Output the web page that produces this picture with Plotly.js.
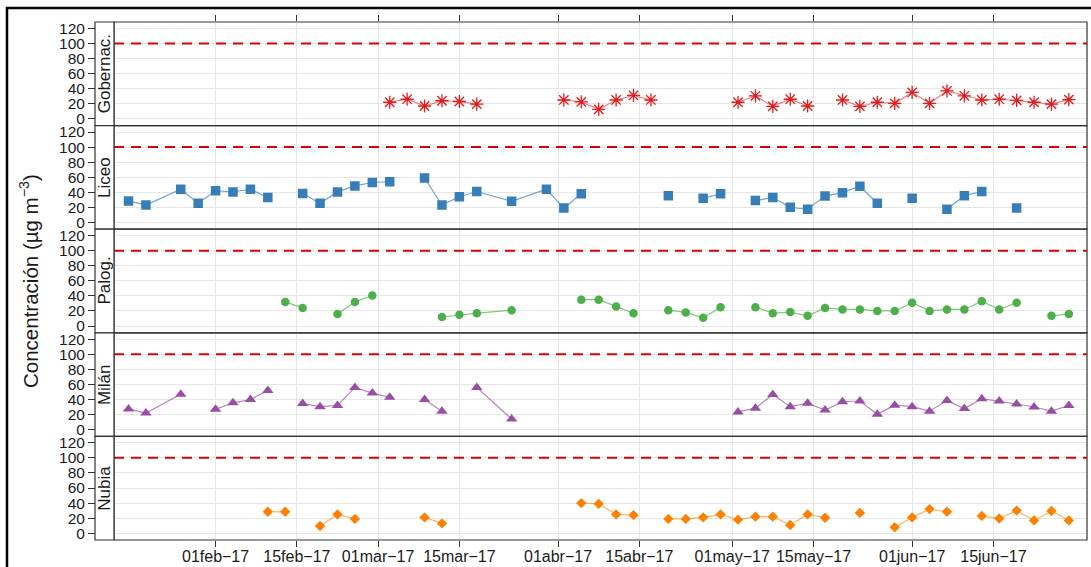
<!DOCTYPE html>
<html>
<head>
<meta charset="utf-8">
<script src="https://cdn.plot.ly/plotly-3.0.1.min.js"></script>
<style>html,body{margin:0;padding:0;background:#fff;}#chart{width:1091px;height:567px;}</style>
</head>
<body>
<div id="chart"></div>
<script>
// Sampling dates (every ~3 days)
const dates = ['2017-01-17','2017-01-20','2017-01-26','2017-01-29','2017-02-01','2017-02-04','2017-02-07','2017-02-10',
  '2017-02-13','2017-02-16','2017-02-19','2017-02-22','2017-02-25','2017-02-28','2017-03-03','2017-03-06','2017-03-09',
  '2017-03-12','2017-03-15','2017-03-18','2017-03-24','2017-03-30','2017-04-02','2017-04-05','2017-04-08','2017-04-11',
  '2017-04-14','2017-04-17','2017-04-20','2017-04-23','2017-04-26','2017-04-29','2017-05-02','2017-05-05','2017-05-08',
  '2017-05-11','2017-05-14','2017-05-17','2017-05-20','2017-05-23','2017-05-26','2017-05-29','2017-06-01','2017-06-04',
  '2017-06-07','2017-06-10','2017-06-13','2017-06-16','2017-06-19','2017-06-22','2017-06-25','2017-06-28'];

const stations = ['Gobernac.', 'Liceo', 'Palog.', 'Milán', 'Nubia'];

const gobernac = [null,null,null,null,null,null,null,null,null,null,null,null,null,null,
  22,26,17,24,23,19.5, null,null, 25,22.5,12.5,25,31,25, null,null,null,null,
  22,30.5,16.5,26,17, null, 25,16.5,22,20.5,35,20.5,37,30.5,25,26,24.5,22,19.5,25.5];
const liceo = [28.5,23,44,25.5,42,40.5,44,33, null, 38.5,25.5,40.5,48.5,53,54, null, 59,23,34,41, 28,44, 19,38,
  null,null,null,null, 35.5, null, 32,38, null, 29,33,20,17.5,35,39.5,48,25.5, null, 32, null, 17.5,35.5,41, null, 19, null,null,null];
const palog = [null,null,null,null,null,null,null,null, 32,24, null, 16,32,40.5, null,null,null, 12,15,17, 21, null,null,
  35,35,26,17, null, 21,18,11,25, null, 25,17,18.5,13.5,24,22,22,20,20,31,20,22,22,33,22,31, null, 13.5,16];
const milan = [27.5,22,47, null, 27,35.5,40,52, null, 34.5,30.5,32,56,48.5,43, null, 40,24.5, null, 56, 14,
  null,null,null,null,null,null,null,null,null,null,null,
  23.5,28.5,46.5,30.5,35,26,37,38,20.5,32.5,30.5,24.5,38.5,28,41,38,34,30,24.5,32];
const nubia = [null,null,null,null,null,null,null, 28.5,28.5, null, 9.5,25,19, null,null,null, 21,13, null,null,null,null,null,
  40,39,25,24, null, 19,19,21,25,18,22,22,11,25,20.5, null, 27, null, 8,21,32,28.5, null, 23,19.5,30,17,29.5,17];

const seriesValues = [gobernac, liceo, palog, milan, nubia];
const seriesColors = ['#e41a1c', '#377eb8', '#4daf4a', '#984ea3', '#ff7f00'];
const lineColors = ['rgba(228,26,28,0.55)', 'rgba(55,126,184,0.7)', 'rgba(77,175,74,0.7)', 'rgba(152,78,163,0.7)', 'rgba(255,127,0,0.6)'];
const symbols = ['asterisk-open', 'square', 'circle', 'triangle-up', 'diamond'];
const sizes = [11, 9.5, 8.5, 10, 8];

const tickDates = ['2017-02-01','2017-02-15','2017-03-01','2017-03-15','2017-04-01','2017-04-15','2017-05-01','2017-05-15','2017-06-01','2017-06-15'];
const tickLabels = ['01feb\u221217','15feb\u221217','01mar\u221217','15mar\u221217','01abr\u221217','15abr\u221217','01may\u221217','15may\u221217','01jun\u221217','15jun\u221217'];
const yTicks = [0, 20, 40, 60, 80, 100, 120];
const limitValue = 100;

const W = 1091, H = 567;
const xLeft = 114, xRight = 1087, stripLeft = 95;
const panelTop = 22, panelH = 103.6;
const xRange = ['2017-01-14 12:00', '2017-07-01 03:00'];
const yRange = [-9, 128.5];
const font = 'Liberation Sans, Arial, sans-serif';

const traces = [];
const layout = {
  width: W, height: H,
  margin: {l: 0, r: 0, t: 0, b: 0},
  paper_bgcolor: '#fff', plot_bgcolor: '#fff',
  showlegend: false,
  font: {family: font, color: '#333'},
  shapes: [], annotations: [],
  xaxis: {
    domain: [xLeft / W, xRight / W], range: xRange, type: 'date', anchor: 'y5',
    tickmode: 'array', tickvals: tickDates, ticktext: tickLabels,
    ticks: 'outside', ticklen: 6, tickcolor: '#333', tickwidth: 1,
    ticklabelstandoff: -4,
    tickfont: {size: 16, color: '#1a1a1a', family: font},
    showgrid: true, gridcolor: '#e6e6e6', gridwidth: 1, zeroline: false, showline: false
  },
  xaxis2: {
    domain: [xLeft / W, xRight / W], range: xRange, type: 'date', anchor: 'y', overlaying: 'x', side: 'top',
    tickmode: 'array', tickvals: tickDates, showticklabels: false,
    ticks: 'outside', ticklen: 6, tickcolor: '#333', tickwidth: 1,
    showgrid: false, zeroline: false, showline: false
  }
};

stations.forEach((name, k) => {
  const yName = k === 0 ? 'y' : 'y' + (k + 1);
  const axKey = k === 0 ? 'yaxis' : 'yaxis' + (k + 1);
  const top = panelTop + k * panelH, bottom = top + panelH;
  layout[axKey] = {
    domain: [1 - bottom / H, 1 - top / H], range: yRange,
    anchor: 'free', position: stripLeft / W,
    tickmode: 'array', tickvals: yTicks,
    ticks: 'outside', ticklen: 7, tickcolor: '#333', tickwidth: 1,
    tickfont: {size: 15.5, color: '#1a1a1a', family: font},
    showgrid: true, gridcolor: '#e6e6e6', gridwidth: 1, zeroline: false, showline: false
  };
  traces.push({
    x: dates, y: seriesValues[k], xaxis: 'x', yaxis: yName, type: 'scatter', mode: 'lines+markers',
    connectgaps: false, name: name, hoverinfo: 'x+y',
    line: {color: lineColors[k], width: 1.2},
    marker: {symbol: symbols[k], size: sizes[k], color: seriesColors[k],
      line: {color: seriesColors[k], width: k === 0 ? 1.3 : 0}}
  });
  // limit line
  layout.shapes.push({type: 'line', xref: 'x domain', yref: yName, x0: 0, x1: 1, y0: limitValue, y1: limitValue,
    line: {color: '#dd0000', width: 2, dash: '10px,7px'}, layer: 'above'});
  // panel border
  layout.shapes.push({type: 'rect', xref: 'paper', yref: 'paper', x0: xLeft / W, x1: xRight / W,
    y0: 1 - bottom / H, y1: 1 - top / H, line: {color: '#333', width: 1.2}, fillcolor: 'rgba(0,0,0,0)', layer: 'above'});
  // strip box
  layout.shapes.push({type: 'rect', xref: 'paper', yref: 'paper', x0: stripLeft / W, x1: xLeft / W,
    y0: 1 - bottom / H, y1: 1 - top / H, line: {color: '#333', width: 1.2}, fillcolor: '#fff', layer: 'above'});
  layout.annotations.push({text: name, xref: 'paper', yref: 'paper', x: (stripLeft + xLeft) / 2 / W, y: 1 - (top + panelH / 2) / H,
    textangle: -90, showarrow: false, xanchor: 'center', yanchor: 'middle',
    font: {size: 17, color: '#1a1a1a', family: font}});
});

// dummy trace to activate top tick axis
traces.push({x: [dates[0]], y: [null], xaxis: 'x2', yaxis: 'y', type: 'scatter', mode: 'markers', hoverinfo: 'skip', showlegend: false});

// y axis title
layout.annotations.push({text: 'Concentración (µg m<sup>\u22123</sup>)', xref: 'paper', yref: 'paper', x: 29 / W,
  y: 1 - (panelTop + 2.5 * panelH) / H, textangle: -90, showarrow: false, xanchor: 'center', yanchor: 'middle',
  font: {size: 20.5, color: '#1a1a1a', family: font}});

// outer frame
layout.shapes.push({type: 'rect', xref: 'paper', yref: 'paper', x0: 7 / W, x1: 1.02, y0: -0.03, y1: 1 - 8 / H,
  line: {color: '#000', width: 2.5}, fillcolor: 'rgba(0,0,0,0)', layer: 'above'});

Plotly.newPlot('chart', traces, layout, {staticPlot: true, displayModeBar: false});
</script>
</body>
</html>
